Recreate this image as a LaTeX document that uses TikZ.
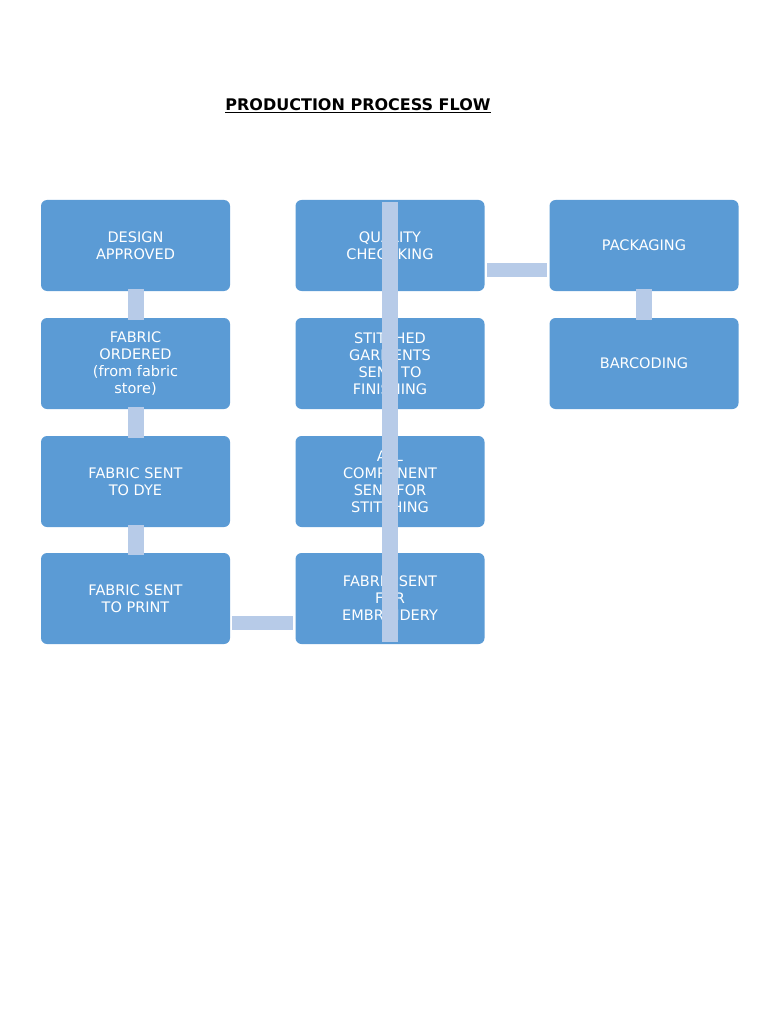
\documentclass[tikz,border=0pt]{standalone}
\usepackage{fontspec}
\setmainfont{DejaVu Sans}
\definecolor{boxc}{HTML}{5B9BD5}
\definecolor{linkc}{HTML}{B7CBE8}
\begin{document}
\begin{tikzpicture}[x=1pt,y=-1pt,
  box/.style={draw=none,fill=boxc,rounded corners=6pt,minimum width=189pt,minimum height=91pt,text=white,align=center,font=\fontsize{14.5}{17}\selectfont,inner sep=2pt},
  vlink/.style={draw=none,fill=linkc,minimum width=16pt,inner sep=0pt},
  hlink/.style={draw=none,fill=linkc,minimum height=14pt,inner sep=0pt}]
\useasboundingbox (0,0) rectangle (768,1024);
\node[font=\bfseries\fontsize{16}{19}\selectfont] (title) at (358,106) {\underline{PRODUCTION PROCESS FLOW}};
\node[box] (a1) at (135.5,245.5) {DESIGN\\APPROVED};
\node[box] (a2) at (135.5,363.5) {FABRIC\\ORDERED\\(from fabric\\store)};
\node[box] (a3) at (135.5,481.5) {FABRIC SENT\\TO DYE};
\node[box] (a4) at (135.5,598.5) {FABRIC SENT\\TO PRINT};
\node[box] (b4) at (390,598.5) {FABRIC SENT\\FOR\\EMBROIDERY};
\node[box] (b3) at (390,481.5) {ALL\\COMPONENT\\SENT FOR\\STITCHING};
\node[box] (b2) at (390,363.5) {STITCHED\\GARMENTS\\SENT TO\\FINISHING};
\node[box] (b1) at (390,245.5) {QUALITY\\CHECHKING};
\node[box] (c1) at (644,245.5) {PACKAGING};
\node[box] (c2) at (644,363.5) {BARCODING};
\foreach \u/\v in {a1/a2,a2/a3,a3/a4,b4/b3,b3/b2,b2/b1,c1/c2}
  \fill[linkc] ([xshift=-8pt,yshift=2pt]\u.south) rectangle ([xshift=8pt,yshift=-2pt]\v.north);
\fill[linkc] ([xshift=2pt,yshift=-31pt]a4.east) rectangle ([xshift=-2pt,yshift=-17pt]b4.west);
\fill[linkc] ([xshift=2pt,yshift=-31pt]b1.east) rectangle ([xshift=-2pt,yshift=-17pt]c1.west);
\end{tikzpicture}
\end{document}
